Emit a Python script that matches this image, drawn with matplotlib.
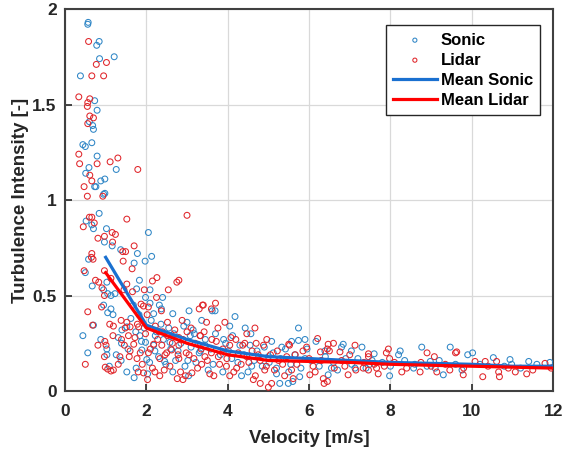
import numpy as np
import matplotlib
matplotlib.use("Agg")
import matplotlib.pyplot as plt

# scatter points (velocity [m/s], turbulence intensity [-])
sonic_pts = [
    (0.57, 1.93), (0.56, 1.92), (0.84, 1.83), (0.78, 1.81), (0.85, 1.74), (1.21, 1.75),
    (0.38, 1.65), (0.73, 1.52), (0.79, 1.47), (0.60, 1.41), (0.68, 1.39), (0.70, 1.37),
    (0.44, 1.29), (0.50, 1.28), (0.66, 1.30), (0.79, 1.23), (0.59, 1.17), (1.26, 1.16),
    (0.51, 1.14), (0.98, 1.11), (0.88, 1.10), (0.73, 1.07), (0.76, 1.07), (0.98, 1.035),
    (0.95, 1.03), (0.84, 0.93), (0.52, 0.89), (0.66, 0.87), (0.70, 0.85), (1.02, 0.85),
    (0.97, 0.78), (1.16, 0.76), (1.37, 0.74), (0.58, 0.69), (0.50, 0.62), (0.67, 0.55),
    (1.03, 0.57), (0.95, 0.53), (1.05, 0.51), (1.13, 0.50), (1.23, 0.51), (0.95, 0.45),
    (1.13, 0.43), (1.05, 0.41), (0.70, 0.345), (1.18, 0.40), (1.40, 0.32), (0.44, 0.29),
    (0.88, 0.27), (1.03, 0.22), (1.31, 0.28), (1.39, 0.25), (0.56, 0.20), (1.03, 0.19),
    (1.26, 0.19), (1.38, 0.16), (1.09, 0.13), (1.52, 0.10),
    (2.05, 0.83), (1.78, 0.72), (1.97, 0.68), (2.13, 0.705), (1.70, 0.67), (1.83, 0.58),
    (1.76, 0.535), (2.09, 0.53), (1.98, 0.49), (2.40, 0.49), (2.09, 0.46), (2.32, 0.45),
    (2.37, 0.43), (2.18, 0.405), (2.65, 0.405), (3.05, 0.42), (3.00, 0.36), (1.52, 0.336),
    (1.74, 0.31), (1.84, 0.29), (2.22, 0.29), (3.15, 0.32), (3.08, 0.29), (1.98, 0.255),
    (2.58, 0.255), (3.27, 0.245), (1.89, 0.215), (2.21, 0.21), (2.78, 0.21), (3.33, 0.21),
    (2.01, 0.165), (2.45, 0.155), (3.02, 0.16), (1.70, 0.07), (2.03, 0.09), (2.65, 0.10),
    (3.04, 0.08),
    (3.69, 0.42), (4.18, 0.39), (3.36, 0.37), (4.05, 0.34), (4.43, 0.33), (4.57, 0.30),
    (3.90, 0.27), (5.08, 0.26), (3.44, 0.24), (5.33, 0.23), (4.10, 0.17), (5.00, 0.18),
    (3.64, 0.14), (4.59, 0.13), (5.20, 0.12), (4.34, 0.08), (5.28, 0.04), (5.50, 0.10),
    (3.62, 0.42), (5.74, 0.33), (5.57, 0.26), (5.74, 0.265), (5.90, 0.27), (6.17, 0.26),
    (6.84, 0.245), (7.30, 0.23), (6.39, 0.21), (7.04, 0.21), (5.90, 0.17), (6.55, 0.12),
    (7.13, 0.12), (5.77, 0.075), (5.49, 0.04), (6.47, 0.085), (6.80, 0.23), (5.60, 0.05),
    (8.77, 0.23), (9.47, 0.23), (8.24, 0.21), (8.20, 0.19), (7.60, 0.195), (7.98, 0.08),
    (8.57, 0.12), (9.10, 0.12), (9.30, 0.085), (7.49, 0.14), (8.98, 0.155),
    (9.90, 0.19), (10.02, 0.20), (10.53, 0.175), (10.94, 0.165), (10.98, 0.14), (9.76, 0.11),
    (11.40, 0.155), (11.92, 0.15),
    (1.55, 0.22), (1.62, 0.38), (1.68, 0.45), (1.75, 0.12), (1.82, 0.40), (1.88, 0.26),
    (1.95, 0.33), (2.08, 0.15), (2.12, 0.37), (2.18, 0.24), (2.25, 0.31), (2.30, 0.18),
    (2.36, 0.35), (2.42, 0.27), (2.48, 0.14), (2.55, 0.33), (2.60, 0.22), (2.68, 0.30),
    (2.72, 0.16), (2.85, 0.25), (2.92, 0.34), (2.95, 0.13), (3.10, 0.23), (3.18, 0.30),
    (3.22, 0.15), (3.30, 0.20), (3.45, 0.27), (3.52, 0.11), (3.58, 0.22), (3.70, 0.30),
    (3.82, 0.19), (3.88, 0.10), (3.95, 0.25), (4.02, 0.21), (4.12, 0.29), (4.25, 0.15),
    (4.30, 0.24), (4.40, 0.19), (4.50, 0.10), (4.55, 0.24), (4.65, 0.16), (4.72, 0.21),
    (4.85, 0.13), (4.90, 0.23), (5.02, 0.15), (5.12, 0.20), (5.20, 0.09), (5.30, 0.17),
    (5.42, 0.22), (5.55, 0.14), (5.65, 0.19), (5.80, 0.12), (5.95, 0.22), (6.05, 0.16),
    (6.25, 0.13), (6.40, 0.18), (6.60, 0.15), (6.70, 0.11), (6.90, 0.17), (7.05, 0.14),
    (7.20, 0.17), (7.40, 0.12), (7.55, 0.16), (7.80, 0.15), (8.00, 0.13), (8.35, 0.16),
    (8.60, 0.14), (8.90, 0.13), (9.20, 0.16), (9.60, 0.14), (10.20, 0.14), (10.80, 0.13),
    (11.20, 0.12), (11.60, 0.14),
]

lidar_pts = [
    (0.58, 1.83), (1.02, 1.72), (0.77, 1.71), (0.66, 1.65), (0.95, 1.65), (0.34, 1.54),
    (0.61, 1.53), (0.56, 1.51), (0.55, 1.49), (0.61, 1.44), (0.70, 1.43), (0.56, 1.40),
    (0.34, 1.24), (0.36, 1.19), (0.79, 1.19), (1.11, 1.20), (1.30, 1.22), (1.79, 1.16),
    (0.61, 1.13), (0.66, 1.10), (0.47, 1.07), (0.55, 1.02), (0.93, 1.02),
    (0.60, 0.91), (0.66, 0.91), (0.45, 0.86), (0.72, 0.88), (1.16, 0.83), (1.24, 0.82),
    (0.81, 0.80), (0.97, 0.81), (1.17, 0.78), (1.52, 0.90), (1.42, 0.73), (0.66, 0.72),
    (0.65, 0.70), (0.69, 0.69), (1.43, 0.68), (0.47, 0.63), (0.97, 0.63), (1.13, 0.59),
    (0.75, 0.58), (0.83, 0.57), (0.91, 0.54), (0.97, 0.50), (1.45, 0.53), (1.52, 0.56),
    (0.90, 0.44), (0.56, 0.415), (0.68, 0.345), (1.10, 0.35), (1.19, 0.34), (1.38, 0.37),
    (1.48, 0.33), (0.98, 0.26), (1.01, 0.24), (0.81, 0.24), (1.18, 0.29), (1.39, 0.27),
    (1.46, 0.24), (0.97, 0.18), (1.35, 0.18), (0.50, 0.14), (0.99, 0.125), (1.05, 0.115),
    (1.13, 0.105), (1.19, 0.11), (1.31, 0.14),
    (3.00, 0.92), (1.49, 0.73), (1.70, 0.76), (1.65, 0.64), (2.15, 0.576), (2.26, 0.594),
    (2.75, 0.57), (2.80, 0.58), (2.54, 0.53), (1.95, 0.53), (2.25, 0.49), (1.87, 0.455),
    (1.93, 0.445), (2.05, 0.44), (2.37, 0.42), (3.70, 0.46), (3.60, 0.43), (2.88, 0.37),
    (1.60, 0.336), (1.81, 0.336), (1.56, 0.29), (2.32, 0.31), (3.00, 0.31), (2.52, 0.29),
    (2.80, 0.28), (3.33, 0.29), (1.69, 0.245), (2.18, 0.245), (2.38, 0.24), (2.80, 0.24),
    (1.60, 0.21), (2.05, 0.20), (2.50, 0.20), (2.62, 0.215), (2.98, 0.20), (1.77, 0.17),
    (2.33, 0.17), (2.80, 0.17), (3.17, 0.17), (1.80, 0.10), (1.93, 0.095), (2.03, 0.06),
    (2.21, 0.10), (2.44, 0.11), (2.76, 0.065), (2.90, 0.06), (3.12, 0.095), (2.96, 0.08),
    (3.40, 0.45), (3.48, 0.36), (3.93, 0.36), (3.76, 0.33), (4.47, 0.30), (3.32, 0.29),
    (3.61, 0.27), (4.20, 0.27), (4.96, 0.27), (4.70, 0.25), (4.05, 0.24), (4.37, 0.24),
    (3.44, 0.18), (3.77, 0.18), (4.47, 0.18), (4.80, 0.16), (5.25, 0.16), (3.36, 0.14),
    (3.97, 0.13), (4.22, 0.12), (4.91, 0.11), (3.56, 0.09), (4.05, 0.08), (4.63, 0.06),
    (5.00, 0.02), (5.08, 0.04), (5.40, 0.08), (3.30, 0.43), (3.38, 0.45), (4.67, 0.33),
    (4.80, 0.04), (6.37, 0.04), (6.45, 0.05),
    (6.21, 0.275), (5.94, 0.23), (5.50, 0.245), (6.47, 0.245), (6.60, 0.25), (7.13, 0.24),
    (6.28, 0.205), (6.76, 0.205), (7.46, 0.195), (5.66, 0.19), (6.10, 0.13), (6.88, 0.13),
    (7.33, 0.12), (5.57, 0.11), (5.61, 0.065), (6.02, 0.085), (6.35, 0.065), (6.96, 0.085),
    (7.46, 0.11), (6.50, 0.21),
    (8.90, 0.20), (9.08, 0.18), (7.95, 0.22), (7.90, 0.20), (7.98, 0.17), (9.60, 0.20),
    (7.46, 0.18), (7.66, 0.12), (7.70, 0.09), (8.28, 0.10), (8.73, 0.10), (9.14, 0.10),
    (9.46, 0.11),
    (9.63, 0.205), (10.08, 0.155), (10.33, 0.155), (10.61, 0.155), (11.07, 0.10), (11.35, 0.09),
    (10.66, 0.10), (10.68, 0.075), (10.27, 0.075), (9.79, 0.085), (11.80, 0.145),
    (1.52, 0.36), (1.58, 0.18), (1.66, 0.52), (1.72, 0.28), (1.78, 0.35), (1.85, 0.20),
    (1.90, 0.14), (1.98, 0.30), (2.02, 0.40), (2.10, 0.22), (2.15, 0.12), (2.22, 0.34),
    (2.28, 0.27), (2.33, 0.08), (2.40, 0.31), (2.46, 0.19), (2.52, 0.36), (2.58, 0.13),
    (2.64, 0.25), (2.70, 0.32), (2.78, 0.19), (2.84, 0.10), (2.90, 0.27), (3.05, 0.19),
    (3.10, 0.33), (3.20, 0.25), (3.26, 0.12), (3.35, 0.22), (3.42, 0.31), (3.50, 0.16),
    (3.60, 0.20), (3.66, 0.08), (3.72, 0.26), (3.80, 0.14), (3.88, 0.22), (3.98, 0.17),
    (4.08, 0.28), (4.15, 0.10), (4.26, 0.20), (4.33, 0.14), (4.42, 0.25), (4.52, 0.15),
    (4.60, 0.21), (4.68, 0.08), (4.75, 0.19), (4.88, 0.24), (4.95, 0.13), (5.05, 0.19),
    (5.15, 0.11), (5.22, 0.21), (5.35, 0.14), (5.45, 0.18), (5.52, 0.24), (5.70, 0.14),
    (5.85, 0.21), (6.00, 0.17), (6.15, 0.10), (6.30, 0.16), (6.45, 0.22), (6.62, 0.12),
    (6.80, 0.16), (7.00, 0.19), (7.15, 0.11), (7.35, 0.15), (7.60, 0.14), (7.85, 0.13),
    (8.10, 0.15), (8.40, 0.12), (8.75, 0.15), (9.00, 0.13), (9.35, 0.14), (9.80, 0.12),
    (10.40, 0.13), (10.90, 0.12), (11.50, 0.11), (11.95, 0.12),
]

# binned means
mean_v = [1, 2, 3, 4, 5, 6, 7, 8, 9, 10, 11, 12]
mean_sonic = [0.70, 0.345, 0.27, 0.21, 0.18, 0.17, 0.16, 0.15, 0.145, 0.14, 0.13, 0.13]
mean_lidar = [0.62, 0.33, 0.25, 0.19, 0.16, 0.155, 0.15, 0.14, 0.135, 0.13, 0.125, 0.12]

plt.rcParams['font.family'] = ['Liberation Sans', 'DejaVu Sans']
plt.rcParams['font.weight'] = 'bold'

sonic = np.array(sonic_pts)
lidar = np.array(lidar_pts)

fig = plt.figure(figsize=(5.65, 4.5), dpi=100)
ax = fig.add_axes([0.115, 0.131, 0.864, 0.849])

ax.scatter(sonic[:, 0], sonic[:, 1], s=18, facecolors='none', edgecolors='#2f86c6',
           linewidths=0.75, label='Sonic', zorder=3)
ax.scatter(lidar[:, 0], lidar[:, 1], s=18, facecolors='none', edgecolors='#e0262b',
           linewidths=0.75, label='Lidar', zorder=3)
ax.plot(mean_v, mean_sonic, color='#1a70d0', lw=2.3, label='Mean Sonic', zorder=4)
ax.plot(mean_v, mean_lidar, color='#ff0000', lw=2.3, label='Mean Lidar', zorder=5)

ax.set_xlim(0, 12)
ax.set_ylim(0, 2)
ax.set_xticks(range(0, 13, 2))
ax.set_yticks([0, 0.5, 1, 1.5, 2])
ax.set_yticklabels(['0', '0.5', '1', '1.5', '2'])
ax.grid(True, color='#d9d9d9', lw=0.9)
ax.set_axisbelow(True)
ax.tick_params(direction='in', labelsize=12.5, width=1.2, length=5, colors='#262626')
ax.tick_params(axis='x', pad=9)
ax.tick_params(axis='y', pad=6)
for lab in ax.get_xticklabels() + ax.get_yticklabels():
    lab.set_fontweight('bold')
for sp in ax.spines.values():
    sp.set_linewidth(1.5)
    sp.set_color('#404040')

ax.set_xlabel('Velocity [m/s]', fontsize=13.5, fontweight='bold', color='#262626', labelpad=8)
ax.set_ylabel('Turbulence Intensity [-]', fontsize=13.5, fontweight='bold', color='#262626',
              labelpad=2)

leg = ax.legend(loc='upper right', bbox_to_anchor=(0.974, 0.958), borderaxespad=0,
                fontsize=12, frameon=True, fancybox=False, edgecolor='#262626',
                framealpha=1, handlelength=2.6, borderpad=0.45, labelspacing=0.3,
                handletextpad=0.25, markerscale=0.7)
leg.get_frame().set_linewidth(1.0)
for t in leg.get_texts():
    t.set_fontweight('bold')

fig.savefig('out.png', dpi=100)
